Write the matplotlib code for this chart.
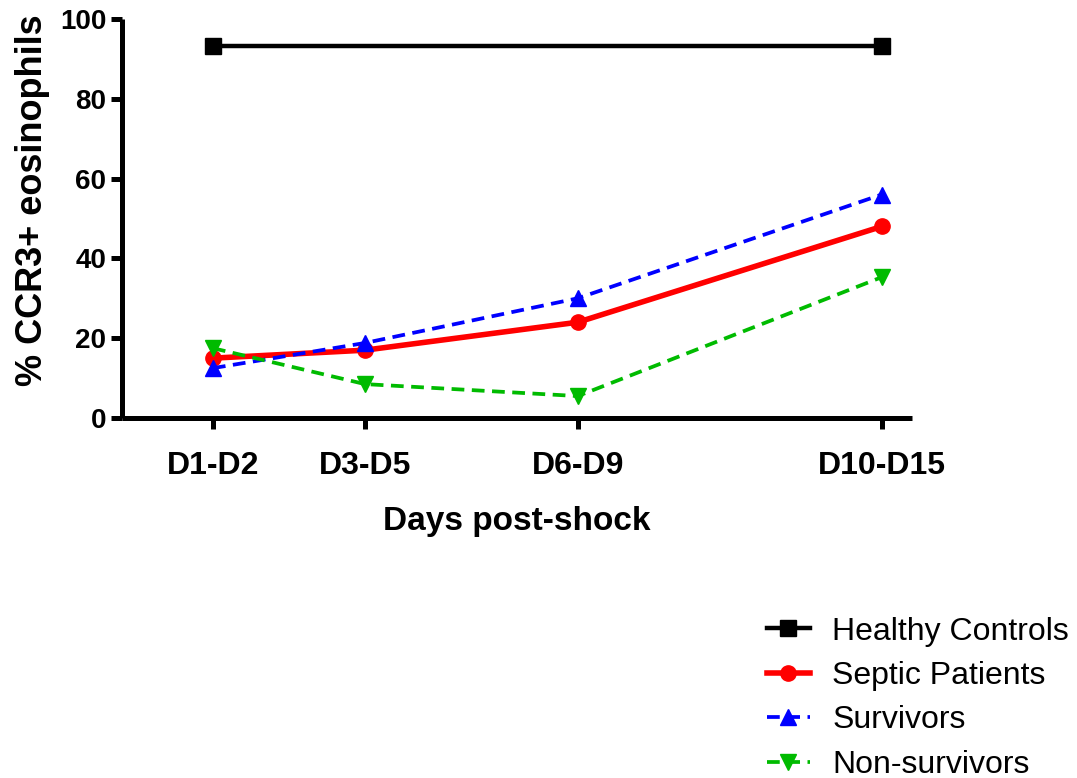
import matplotlib
matplotlib.use('Agg')
import matplotlib.pyplot as plt

plt.rcParams['font.family'] = ['Liberation Sans', 'DejaVu Sans']

# x positions = middle day of each window
periods = ['D1-D2', 'D3-D5', 'D6-D9', 'D10-D15']
x_pos = [1.5, 4.0, 7.5, 12.5]

healthy_x = [1.5, 12.5]
healthy = [93.2, 93.2]
septic = [15.0, 17.0, 24.0, 48.0]
survivors = [12.5, 18.8, 30.0, 56.0]
non_survivors = [17.5, 8.5, 5.5, 35.3]

fig = plt.figure(figsize=(10.77, 7.78), dpi=100)
ax = fig.add_axes([0.113, 0.4627, 0.734, 0.513])

ax.plot(healthy_x, healthy, color='black', lw=3.2, marker='s', ms=11,
        label='Healthy Controls', clip_on=False, zorder=3)
ax.plot(x_pos, septic, color='#ff0000', lw=4, marker='o', ms=11,
        label='Septic Patients', clip_on=False, zorder=3)
ax.plot(x_pos, survivors, color='#0000ff', lw=2.7, ls=(0, (3.4, 2)), marker='^', ms=11,
        label='Survivors', clip_on=False, zorder=4)
ax.plot(x_pos, non_survivors, color='#00bb00', lw=2.7, ls=(0, (3.4, 2)), marker='v', ms=11,
        label='Non-survivors', clip_on=False, zorder=5)

ax.set_xlim(0, 13)
ax.set_ylim(0, 100)
ax.set_yticks([0, 20, 40, 60, 80, 100])
ax.set_xticks(x_pos)
ax.set_xticklabels(periods)

for s in ['top', 'right']:
    ax.spines[s].set_visible(False)
for s in ['left', 'bottom']:
    ax.spines[s].set_linewidth(3.6)
    ax.spines[s].set_capstyle('butt')

ax.tick_params(axis='both', width=3.6, length=8, direction='out')
ax.tick_params(axis='y', labelsize=20, pad=3)
ax.tick_params(axis='x', labelsize=23, pad=16)
for lbl in ax.get_xticklabels() + ax.get_yticklabels():
    lbl.set_fontweight('bold')

ax.set_ylabel('% CCR3+ eosinophils', fontsize=26, fontweight='bold')
ax.yaxis.set_label_coords(-0.091, 0.546)
ax.set_xlabel('Days post-shock', fontsize=24, fontweight='bold', labelpad=18)

fig.legend(loc='upper left', bbox_to_anchor=(0.697, 0.228), frameon=False,
           fontsize=23, handlelength=1.35, handletextpad=0.7, labelspacing=0.45,
           borderpad=0)

fig.savefig('out.png', dpi=100)
